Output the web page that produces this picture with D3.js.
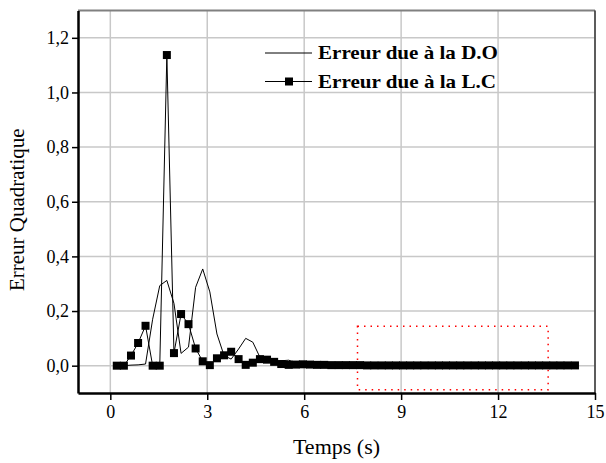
<!DOCTYPE html>
<html>
<head>
<meta charset="utf-8">
<script src="https://cdn.jsdelivr.net/npm/d3@7"></script>
<style>
  body { margin: 0; background: #fff; }
  svg { display: block; font-family: 'Liberation Serif', 'Times New Roman', serif; }
  svg text { font-family: 'Liberation Serif', 'Times New Roman', serif; }
</style>
</head>
<body>
<script>
// sample times (s), shared by both series
const time = [
  0.20, 0.42, 0.64, 0.86, 1.09, 1.31, 1.53, 1.75, 1.97, 2.19,
  2.42, 2.64, 2.86, 3.08, 3.30, 3.52, 3.74, 3.97, 4.19, 4.41,
  4.63, 4.85, 5.07, 5.29, 5.52, 5.74, 5.96, 6.18, 6.40, 6.62,
  6.84, 7.07, 7.29, 7.51, 7.73, 7.95, 8.17, 8.40, 8.62, 8.84,
  9.06, 9.28, 9.50, 9.72, 9.95, 10.17, 10.39, 10.61, 10.83, 11.05,
  11.28, 11.50, 11.72, 11.94, 12.16, 12.38, 12.60, 12.83, 13.05, 13.27,
  13.49, 13.71, 13.93, 14.15, 14.38
];

// Erreur due à la D.O (plain line)
const errDO = [
  0.000, 0.000, 0.002, 0.003, 0.006, 0.170, 0.293, 0.312, 0.228, 0.045,
  0.068, 0.287, 0.354, 0.270, 0.116, 0.037, 0.024, 0.061, 0.100, 0.086,
  0.031, 0.015, 0.010, 0.018, 0.020, 0.012, 0.008, 0.006, 0.005, 0.004,
  0.003, 0.003, 0.002, 0.002, 0.002, 0.002, 0.001, 0.001, 0.001, 0.001,
  0.001, 0.001, 0.001, 0.001, 0.001, 0.001, 0.001, 0.001, 0.001, 0.001,
  0.001, 0.001, 0.001, 0.001, 0.001, 0.001, 0.001, 0.001, 0.001, 0.001,
  0.001, 0.001, 0.001, 0.001, 0.001
];

// Erreur due à la L.C (line + squares)
const errLC = [
  0.000, 0.000, 0.037, 0.083, 0.146, 0.000, 0.000, 1.137, 0.046, 0.189,
  0.152, 0.063, 0.016, 0.002, 0.027, 0.038, 0.051, 0.024, 0.003, 0.011,
  0.024, 0.022, 0.014, 0.006, 0.003, 0.004, 0.005, 0.004, 0.003, 0.003,
  0.002, 0.002, 0.002, 0.002, 0.002, 0.001, 0.001, 0.001, 0.001, 0.001,
  0.001, 0.001, 0.001, 0.001, 0.001, 0.001, 0.001, 0.001, 0.001, 0.001,
  0.001, 0.001, 0.001, 0.001, 0.001, 0.001, 0.001, 0.001, 0.001, 0.001,
  0.001, 0.001, 0.001, 0.001, 0.001
];

const xTicks = [0, 3, 6, 9, 12, 15];
const yTicks = [0, 0.2, 0.4, 0.6, 0.8, 1.0, 1.2];
const seriesNames = ['Erreur due à la D.O', 'Erreur due à la L.C'];
// highlighted region [t0, t1, e0, e1]
const zoomBox = [7.65, 13.55, -0.088, 0.144];

const width = 606, height = 463;
const margin = {top: 10.5, right: 11, bottom: 70, left: 78};

const svg = d3.select('body').append('svg')
  .attr('width', width)
  .attr('height', height)
  .attr('viewBox', [0, 0, width, height]);

const x = d3.scaleLinear().domain([-1, 15]).range([margin.left, width - margin.right]);
const y = d3.scaleLinear().domain([-0.1, 1.3]).range([height - margin.bottom, margin.top]);

const fr = d3.formatLocale({decimal: ',', thousands: ' ', grouping: [3], currency: ['', '€']});
const fmtY = fr.format('.1f');

// grid
const grid = svg.append('g').attr('stroke', '#c8c8c8').attr('stroke-width', 1.5);
grid.selectAll('.gx').data(xTicks).join('line')
  .attr('x1', d => x(d)).attr('x2', d => x(d))
  .attr('y1', y.range()[0]).attr('y2', y.range()[1]);
grid.selectAll('.gy').data(yTicks).join('line')
  .attr('x1', x.range()[0]).attr('x2', x.range()[1])
  .attr('y1', d => y(d)).attr('y2', d => y(d));

// frame top + right
svg.append('line')
  .attr('x1', x.range()[0]).attr('x2', x.range()[1])
  .attr('y1', y.range()[1]).attr('y2', y.range()[1])
  .attr('stroke', '#808080').attr('stroke-width', 2);
svg.append('line')
  .attr('x1', x.range()[1]).attr('x2', x.range()[1])
  .attr('y1', y.range()[1]).attr('y2', y.range()[0])
  .attr('stroke', '#333').attr('stroke-width', 1.5);

// axes
const gx = svg.append('g')
  .attr('transform', `translate(0,${y.range()[0]})`)
  .call(d3.axisBottom(x).tickValues(xTicks).tickSize(7).tickSizeOuter(0).tickPadding(5));
const gy = svg.append('g')
  .attr('transform', `translate(${x.range()[0]},0)`)
  .call(d3.axisLeft(y).tickValues(yTicks).tickFormat(fmtY).tickSize(6).tickSizeOuter(0).tickPadding(3));

[gx, gy].forEach(g => {
  g.attr('font-family', null).attr('font-size', null);
  g.select('.domain').attr('stroke', '#000').attr('stroke-width', 2.5);
  g.selectAll('.tick line').attr('stroke', '#000').attr('stroke-width', 1.5);
  g.selectAll('.tick text')
    .attr('fill', '#000')
    .attr('font-size', 18);
});

// red dotted highlight box
svg.append('rect')
  .attr('x', x(zoomBox[0]))
  .attr('y', y(zoomBox[3]))
  .attr('width', x(zoomBox[1]) - x(zoomBox[0]))
  .attr('height', y(zoomBox[2]) - y(zoomBox[3]))
  .attr('fill', 'none')
  .attr('stroke', '#ff0000')
  .attr('stroke-width', 1.5)
  .attr('stroke-dasharray', '1.5,5');

// series
const line = d3.line().x((d, i) => x(time[i])).y(d => y(d));

svg.append('path')
  .datum(errDO)
  .attr('fill', 'none')
  .attr('stroke', '#000')
  .attr('stroke-width', 1)
  .attr('d', line);

svg.append('path')
  .datum(errLC)
  .attr('fill', 'none')
  .attr('stroke', '#000')
  .attr('stroke-width', 1)
  .attr('d', line);

const sq = 8;
svg.append('g')
  .selectAll('rect')
  .data(errLC)
  .join('rect')
  .attr('x', (d, i) => x(time[i]) - sq / 2)
  .attr('y', d => y(d) - sq / 2)
  .attr('width', sq)
  .attr('height', sq)
  .attr('fill', '#000');

// legend
const legend = svg.append('g').attr('font-weight', 'bold').attr('font-size', 19);
const rows = [53, 81.5];
const textLen = [180, 178];
seriesNames.forEach((name, i) => {
  legend.append('line')
    .attr('x1', 265).attr('x2', 312)
    .attr('y1', rows[i]).attr('y2', rows[i])
    .attr('stroke', '#000').attr('stroke-width', 1);
  if (i === 1) {
    legend.append('rect')
      .attr('x', 289 - sq / 2).attr('y', rows[i] - sq / 2)
      .attr('width', sq).attr('height', sq).attr('fill', '#000');
  }
  legend.append('text')
    .attr('x', 318)
    .attr('y', rows[i] + 6)
    .attr('textLength', textLen[i])
    .attr('lengthAdjust', 'spacingAndGlyphs')
    .text(name);
});

// axis titles
svg.append('text')
  .attr('transform', `translate(24,${(y.range()[0] + y.range()[1]) / 2 + 8}) rotate(-90)`)
  .attr('text-anchor', 'middle')
  .attr('font-size', 21)
  .text('Erreur Quadratique');

svg.append('text')
  .attr('x', (x.range()[0] + x.range()[1]) / 2)
  .attr('y', 454)
  .attr('text-anchor', 'middle')
  .attr('font-size', 22)
  .text('Temps (s)');
</script>
</body>
</html>
